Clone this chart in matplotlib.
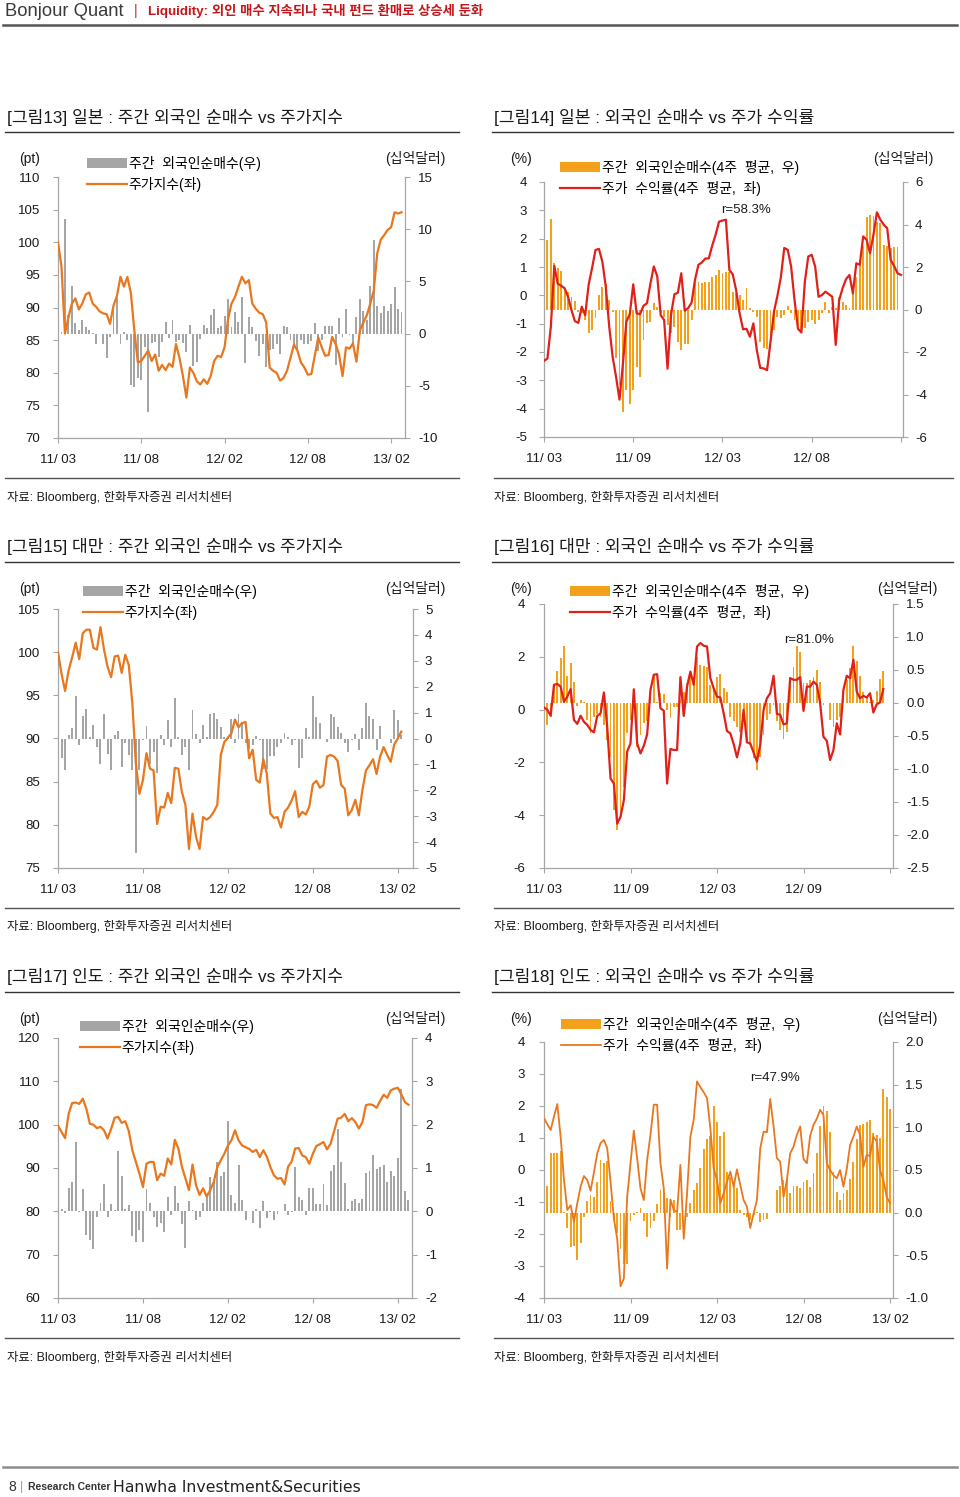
import numpy as np
import matplotlib
matplotlib.use('Agg')
import matplotlib.pyplot as plt
from matplotlib.lines import Line2D
from matplotlib.ticker import FormatStrFormatter

plt.rcParams['font.family'] = ['Liberation Sans', 'Noto Sans CJK KR']
plt.rcParams['axes.unicode_minus'] = False

# ---------------- data ----------------
# [그림13] Japan: weekly foreign net buying (bn USD, right) vs index (pt, left)
jp_idx = [100, 96.3, 86, 88.5, 90.6, 91.4, 89.7, 90.6, 92, 92.3,
          90.6, 90.1, 89.4, 89.1, 89, 87.5, 90.3, 91.8, 94.7, 93.2,
          94.7, 92.2, 86.5, 81.6, 81.8, 82.6, 83.4, 81.8, 82.8, 80.3,
          81.2, 80.4, 81.4, 80.9, 84.4, 82.3, 79.5, 76.2, 80.8, 80,
          78.7, 78.2, 79, 78.3, 79.5, 81.8, 82.6, 82.4, 83.9, 88.2,
          90.6, 91.6, 93.2, 94.7, 93.7, 94.2, 90.6, 89.8, 89.2, 89,
          87.7, 80.8, 80.3, 80, 78.8, 79.2, 80.3, 82.3, 84.3, 83.4,
          81.6, 80.8, 79.7, 79.8, 82.6, 85.4, 83.9, 82.6, 82.7, 85.5,
          84.4, 82.8, 79.5, 83.9, 83.7, 84.5, 81.7, 86.5, 87.7, 88.8,
          90.6, 92.6, 98.3, 100.4, 101.1, 101.9, 102.3, 104.6, 104.4, 104.6]
jp_flow = [1.95, 0.2, 11.0, 1.8, 4.6, 1.05, 0.35, 1.3, 0.65, 0.35,
           0.1, -1.0, 0.0, -0.95, -2.3, -0.3, 2.3, 3.4, -0.95, 0.15,
           -0.6, -4.9, -5.1, -4.3, -4.4, -1.25, -7.5, -0.9, -0.8, -2.2,
           -0.8, 1.1, -0.45, 1.3, -0.8, -0.6, -0.9, -1.75, 0.8, -3.15,
           -2.7, -0.5, 0.8, 0.5, 1.8, 2.35, 0.5, 0.75, 1.7, 3.3,
           0.65, 2.1, 1.1, 3.5, -2.85, 1.6, 0.65, -0.75, -2.15, -0.95,
           -3.2, -1.6, -1.5, -1.0, -2.0, 0.75, 0.6, -0.6, -1.25, -1.6,
           -0.6, -0.95, -1.0, -0.75, 1.05, -1.7, -0.6, 0.75, 0.75, 0.75,
           -3.0, 1.45, -0.3, 2.4, -0.1, -0.95, 1.6, 3.3, 2.2, 1.3,
           4.6, 9.0, 2.65, 2.0, 2.6, 2.2, 2.8, 4.5, 2.35, 2.05]

# [그림14] Japan: 4w avg return (%, left) vs 4w avg foreign net buying (bn USD, right)
jp_ret = [-2.31, -2.23, -1.1, 1.04, 0.41, 0.34, 0.25, -0.05, -0.52, -0.91,
          -0.97, -0.4, -0.7, 0.37, 0.96, 1.6, 1.64, 1.19, 0.31, -1.1,
          -2.17, -2.88, -3.68, -2.41, -0.93, -0.66, 0.39, -0.64, -0.66, -0.37,
          -0.28, 0.41, 1.02, 0.67, -0.7, -0.87, -2.59, -0.7, 0.04, 0.09,
          0.78, -0.54, -0.45, -0.26, 0.55, 1.08, 1.16, 1.3, 1.3, 1.75,
          2.14, 2.6, 2.64, 2.67, 0.9, 0.74, 0.17, -0.64, -1.2, -1.18,
          -1.46, -0.99, -1.93, -2.56, -2.58, -2.64, -1.64, -0.58, -0.02, 0.63,
          1.67, 1.61, 1.02, -0.17, -1.18, -1.31, 0.48, 1.37, 1.43, 1.02,
          -0.05, 0.01, 0.13, 0.04, -0.05, -1.75, -0.17, 0.25, 0.57, 0.72,
          0.07, 1.13, 1.08, 2.08, 1.96, 1.49, 2.14, 2.93, 2.67, 2.49,
          2.37, 1.25, 1.04, 0.78, 0.72]
jp_flow4 = [3.3, 3.25, 4.27, 2.18, 1.97, 1.83, 0.89, 0.84, 0.6, 0.42,
            -0.1, -0.18, -0.5, -1.12, -0.97, -0.42, 0.68, 1.08, 1.2, 0.45,
            -0.1, -2.3, -3.56, -4.83, -3.8, -4.43, -3.8, -2.7, -3.17, -1.44,
            -0.65, -0.57, 0.29, 0.13, -0.18, -0.34, -0.73, -1.12, -0.81, -1.52,
            -1.91, -1.63, -1.63, -0.5, 1.23, 1.31, 1.26, 1.31, 1.31, 1.55,
            1.63, 1.86, 1.74, 1.75, 1.78, 0.84, 0.76, 0.68, 0.45, 1.0,
            0.06, -0.1, -0.34, -1.52, -1.83, -1.88, -1.83, -0.97, -0.34, -0.42,
            -0.26, 0.17, -0.18, -0.5, -0.73, -0.97, -0.89, -0.57, -0.5, -0.68,
            -0.5, -0.18, 0.37, -0.18, 0.13, 0.06, 0.6, 0.34, 0.21, 0.06,
            0.92, 1.55, 2.18, 2.99, 4.35, 4.46, 4.38, 4.11, 4.06, 3.04,
            2.99, 2.91, 2.93, 2.93]

# [그림15] Taiwan
tw_idx = [100, 97.5, 95.5, 97.9, 99.4, 101.1, 99.2, 102.2, 102.6, 102.6,
          100.5, 100.3, 102.9, 100.3, 98.3, 97.1, 99.5, 99.6, 97.6, 99.7,
          98.5, 94.1, 87.1, 83.6, 85.2, 88.3, 86.5, 86.3, 80.1, 82.1,
          82, 83.7, 82.5, 86.6, 86.5, 83.8, 82.3, 77.2, 81.3, 78.6,
          77.2, 80.9, 80.6, 80.9, 81.5, 82.3, 88.1, 89.6, 90.1, 90.6,
          92.2, 91.3, 91.8, 91.9, 87.7, 88.7, 85.2, 84.9, 87.6, 85.9,
          81.3, 80.8, 80.9, 79.7, 81.5, 82, 82.8, 83.9, 80.9, 81.5,
          81.2, 82.1, 84.7, 85.1, 84.3, 84.6, 87.9, 88.1, 87.9, 87.4,
          84.6, 84.2, 81.1, 81.7, 82.9, 81.1, 84, 86.3, 86.9, 87.6,
          85.9, 87.9, 89, 88.1, 87.3, 89.3, 90, 90.8]
tw_flow = [0.06, -0.77, -1.22, 0.13, 0.39, 1.65, -0.26, 0.88, 1.15, 0.06,
           0.52, -0.32, -0.97, 0.93, -0.58, -1.22, 0.13, 0.28, -1.1, -0.19,
           -0.64, -1.22, -4.42, -1.22, -0.06, 0.48, -0.97, -0.52, -1.35, 0.13,
           -0.26, 0.73, -0.32, 1.55, 0.06, -0.64, -0.32, -1.22, 1.1, 0.19,
           -0.19, 0.52, 0.06, 0.93, 0.97, 0.75, 0.45, 0.06, 0.06, 0.77,
           -0.19, 0.93, 0.62, -0.19, -0.39, -0.26, 0.1, -0.06, -1.19, -1.19,
           -0.68, -0.68, -0.32, -0.19, 0.22, 0.06, -0.26, -0.04, -1.13, -0.77,
           0.41, 0.06, 1.65, 0.84, 0.58, 0.0, -0.13, 0.93, 0.84, 0.43,
           0.23, -0.19, -0.52, -0.06, 0.19, -0.43, 0.41, 1.38, 0.88, 0.75,
           -0.45, 0.49, 0.0, 0.0, -0.19, 1.1, 0.71, 0.13]

# [그림16] Taiwan returns
tw_ret = [0.08, -0.01, -0.23, 0.94, 0.97, 0.87, 0.3, 0.49, 0.78, -0.39,
          -0.54, -0.23, -0.46, -0.58, -0.77, -0.86, -0.24, -0.14, 0.65, -0.65,
          -2.61, -2.8, -4.32, -4.06, -3.43, -1.59, -1.28, 0.77, -1.28, -1.66,
          -1.37, -0.94, 0.75, 1.32, 1.34, 0.05, -0.04, -2.8, -1.49, -1.53,
          -1.53, 1.23, -0.24, 0.87, 1.44, 0.94, 2.39, 2.52, 2.42, 2.39,
          1.19, 0.81, 0.49, 0.46, -0.14, -0.81, -0.9, -1.3, -1.81, -1.28,
          -0.01, -1.24, -1.28, -1.63, -1.97, -1.34, -0.01, 0.43, 0.62, 1.28,
          -0.16, -0.2, -0.56, -0.52, 1.19, 1.13, 1.13, 1.23, -0.05, 0.87,
          0.87, 1.06, 0.94, 0.24, -1.03, -1.18, -1.91, -1.53, -0.52, -0.94,
          0.75, 1.28, 1.19, 1.89, 0.68, 0.43, 0.52, 0.46, 0.62, -0.11,
          0.2, 0.27, 0.78]
tw_flow4 = [-0.44, -0.33, -0.21, 0.27, 0.48, 0.68, 0.86, 0.41, 0.61, 0.32,
            -0.05, 0.05, 0.02, -0.26, -0.46, -0.21, -0.16, -0.21, -0.33, -0.56,
            -0.82, -1.62, -1.93, -1.73, -1.27, -0.46, -0.26, 0.0, -0.66, -0.49,
            -0.31, -0.28, 0.2, 0.43, 0.02, 0.15, 0.14, -0.11, -0.23, -0.06,
            -0.06, 0.05, 0.16, 0.3, 0.43, 0.35, 0.7, 0.58, 0.56, 0.55,
            0.27, 0.22, 0.4, 0.44, 0.22, 0.17, -0.21, -0.28, -0.36, -0.44,
            -0.11, -0.61, -0.64, -0.84, -1.01, -0.82, -0.49, -0.26, -0.16, -0.03,
            -0.28, -0.41, -0.54, -0.44, 0.4, 0.55, 0.86, 0.78, 0.3, 0.3,
            0.35, 0.4, 0.5, 0.32, -0.03, 0.0, -0.26, -0.36, -0.26, -0.21,
            0.17, 0.35, 0.53, 0.86, 0.63, 0.41, 0.17, 0.07, 0.02, 0.05,
            0.18, 0.36, 0.48]

# [그림17] India
in_idx = [99.8, 98.3, 96.9, 102.5, 105, 105.1, 104.8, 106, 103.7, 100.2,
          100, 99.2, 99.5, 98.7, 96.8, 99, 101.6, 101.8, 100.4, 100.8,
          98.5, 94.1, 91.4, 88.7, 85.6, 91, 91.4, 91.4, 87.2, 88.7,
          88.2, 92.2, 90.8, 96.5, 94.5, 90.3, 87.6, 84.9, 90.8, 86,
          83.8, 85.3, 83.4, 84.9, 86.8, 90.2, 91.8, 93.3, 95.2, 96.4,
          98.7, 96.4, 95.2, 94.8, 94.4, 93.7, 94.2, 92.5, 94.1, 92.6,
          90.2, 88.3, 87.5, 87.7, 86.2, 90.3, 91.5, 94.5, 94.6, 92.9,
          92.5, 91, 93.3, 95.1, 95.5, 96, 94.3, 95.6, 98.5, 101.4,
          101.6, 102.5, 100.8, 101.5, 100.6, 99.1, 100.6, 104.5, 104.7, 104.5,
          103.9, 105.5, 106.9, 106.2, 107.9, 108.3, 108.5, 107, 105.2, 104.6]
in_flow = [0.27, 0.06, -0.04, 0.55, 0.68, 1.6, -0.02, 0.51, -0.55, -0.67,
           -0.88, -0.13, 0.2, 0.62, -0.13, 0.16, 0.02, 1.39, 0.81, 0.06,
           0.14, -0.57, -0.71, -0.44, -0.71, 0.51, 0.2, -0.13, -0.35, -0.27,
           -0.48, 0.33, -0.09, 0.58, 0.19, -0.3, -0.84, 0.25, 0.02, -0.21,
           -0.12, 0.2, 0.33, 0.79, 0.68, 1.14, 0.81, 0.91, 2.08, 0.37,
           0.2, 1.08, 0.27, -0.21, 0.0, -0.27, 0.06, -0.38, 0.24, -0.15,
           -0.02, -0.21, -0.05, 0.0, 0.16, -0.09, -0.02, 1.02, 0.33, 0.27,
           -0.09, 0.55, 0.55, 0.16, 0.16, 0.62, 0.14, 0.92, 1.08, 1.91,
           1.15, 0.65, 0.06, 0.25, 0.29, 0.2, 0.29, 0.88, 0.92, 1.29,
           0.98, 1.02, 1.06, 0.68, 0.92, 0.81, 1.23, 2.83, 0.47, 0.27]

# [그림18] India returns
in_ret = [1.62, 1.43, 1.25, 1.67, 2.06, 1.04, -0.31, -1.25, -1.1, -1.62,
          -1.04, -0.52, -0.19, -0.31, -0.65, -0.08, 0.52, 0.84, 0.94, 0.68,
          -0.37, -1.52, -2.15, -3.63, -3.39, -0.84, 0.21, 1.23, 0.37, -0.57,
          -0.94, 0.31, 1.1, 2.04, 2.04, 0.21, -0.57, -3.08, -0.92, -1.25,
          -1.32, 0.16, -2.15, -0.73, 1.04, 1.57, 2.77, 2.59, 2.43, 2.25,
          1.31, 0.05, -0.31, -1.04, -0.73, -0.37, -0.05, -0.52, 0.02, -0.47,
          -0.94, -1.15, -1.81, -1.36, -0.94, 0.68, 1.2, 1.18, 2.22, 1.36,
          0.37, 0.26, -0.84, -0.31, 0.52, 0.73, 1.1, 1.36, 0.34, 0.21,
          1.07, 1.41, 1.6, 1.88, 1.72, 0.21, 0.0, -0.16, -0.26, 0.0,
          -0.52, 0.03, 0.78, 1.04, 1.36, 1.1, 0.1, 0.47, 0.44, 1.04,
          0.89, 0.0, -0.31, -0.84, -1.04]
in_flow4 = [0.21, 0.31, 0.7, 0.7, 0.7, 0.72, 0.01, -0.18, -0.4, -0.39,
            -0.56, -0.36, -0.05, 0.14, 0.21, 0.18, 0.36, 0.62, 0.58, 0.6,
            0.14, -0.07, -0.24, -0.42, -0.6, -0.6, -0.1, -0.03, 0.01, 0.05,
            -0.1, -0.29, -0.18, -0.1, 0.1, 0.26, 0.23, 0.17, -0.05, 0.15,
            -0.2, -0.2, 0.0, -0.05, 0.11, 0.27, 0.35, 0.52, 0.75, 0.86,
            0.9, 1.25, 1.06, 0.9, 0.95, 0.48, 0.42, 0.36, 0.29, 0.03,
            -0.03, -0.05, -0.09, -0.03, 0.01, -0.11, -0.09, -0.07, 0.0, 0.0,
            0.27, 0.31, 0.38, 0.4, 0.23, 0.31, 0.31, 0.29, 0.36, 0.38,
            0.3, 0.47, 0.7, 1.02, 1.25, 1.19, 0.95, 0.48, 0.24, 0.15,
            0.23, 0.27, 0.39, 0.59, 0.86, 1.03, 1.04, 1.06, 1.09, 0.93,
            0.91, 0.87, 1.45, 1.36, 1.22]

labels_a = ['11/ 03', '11/ 08', '12/ 02', '12/ 08', '13/ 02']
labels_14 = ['11/ 03', '11/ 09', '12/ 03', '12/ 08', '']
labels_16 = ['11/ 03', '11/ 09', '12/ 03', '12/ 09', '']
labels_18 = ['11/ 03', '11/ 09', '12/ 03', '12/ 08', '13/ 02']
leg_idx = ['주간  외국인순매수(우)', '주가지수(좌)']
leg_ret = ['주간  외국인순매수(4주  평균,  우)', '주가  수익률(4주  평균,  좌)']

# ---------------- layout ----------------
W, H = 960, 1497
fig = plt.figure(figsize=(W / 100, H / 100), dpi=100)
fig.patch.set_facecolor('white')

def fx(x):
    return x / W

def fy(y):
    return 1 - y / H

def rect(x0, y0, x1, y1):
    return [x0 / W, 1 - y1 / H, (x1 - x0) / W, (y1 - y0) / H]

def T(x, y, s, **kw):
    kw.setdefault('va', 'center')
    kw.setdefault('color', '#1a1a1a')
    return fig.text(fx(x), fy(y), s, **kw)

def rule(x0, x1, y, color='#444444', lw=1.0):
    fig.add_artist(Line2D([fx(x0), fx(x1)], [fy(y), fy(y)], transform=fig.transFigure,
                          color=color, lw=lw))

AX_COL = '#A6A6A6'
TXT = '#1a1a1a'
GRAY_BAR = '#A5A5A5'
IDX_LINE = '#E8771E'
ORANGE_BAR = '#F3A11B'
RED_LINE = '#E0201B'
FS = 9.5
LEG_FS = 10


def chart(r, line_vals, bar_vals, xlim, xticks, xlabels, llim, lticks, rlim, rticks,
          rfmt, line_col, bar_col, lpad, rpad, leg_xy, leg_labels, lw=1.6):
    axb = fig.add_axes(rect(*r))
    axl = axb.twinx()
    axb.yaxis.tick_right()
    axl.yaxis.tick_left()
    bars = axb.bar(np.arange(len(bar_vals)), bar_vals, width=0.55, color=bar_col,
                   linewidth=0, zorder=2)
    line, = axl.plot(np.arange(len(line_vals)), line_vals, color=line_col, lw=lw, zorder=3)
    axb.set_xlim(*xlim)
    axb.set_ylim(*rlim)
    axl.set_ylim(*llim)
    axb.set_yticks(rticks)
    axl.set_yticks(lticks)
    axb.yaxis.set_major_formatter(FormatStrFormatter(rfmt))
    axl.yaxis.set_major_formatter(FormatStrFormatter('%g'))
    axb.set_xticks(xticks)
    axb.set_xticklabels(xlabels)
    for s in ['top', 'left']:
        axb.spines[s].set_visible(False)
    for s in ['top', 'right', 'bottom']:
        axl.spines[s].set_visible(False)
    for sp in (axb.spines['right'], axb.spines['bottom'], axl.spines['left']):
        sp.set_color(AX_COL)
        sp.set_linewidth(0.9)
    axb.tick_params(axis='y', direction='out', length=3.6, width=0.8, color=AX_COL,
                    labelsize=FS, pad=rpad, labelcolor=TXT)
    axb.tick_params(axis='x', direction='out', length=3.6, width=0.8, color=AX_COL,
                    labelsize=FS, pad=8.0, labelcolor=TXT)
    axl.tick_params(axis='y', direction='out', length=3.6, width=0.8, color=AX_COL,
                    labelsize=FS, pad=lpad, labelcolor=TXT)
    axb.patch.set_visible(False)
    axl.legend([bars, line], leg_labels, loc='upper left',
               bbox_to_anchor=(fx(leg_xy[0]), fy(leg_xy[1])),
               bbox_transform=fig.transFigure, frameon=False, fontsize=LEG_FS,
               handlelength=2.9, handletextpad=0.1, borderpad=0, borderaxespad=0,
               labelspacing=0.4)
    return axb, axl


# Chart 13
chart((58, 177, 405, 438), jp_idx, jp_flow, (0, 100), [0, 24, 48, 72, 96], labels_a,
      (70, 110), np.arange(70, 111, 5), (-10, 15), np.arange(-10, 16, 5), '%d',
      IDX_LINE, GRAY_BAR, 9.4, 5.8, (87, 156), leg_idx)
# Chart 14
chart((544, 182, 903, 437), jp_ret, jp_flow4, (0, 104.6), [0, 26, 52, 78, 104], labels_14,
      (-5, 4), np.arange(-5, 5, 1), (-6, 6), np.arange(-6, 7, 2), '%d',
      RED_LINE, ORANGE_BAR, 8.6, 5.0, (560, 160), leg_ret)
# Chart 15
chart((58, 609, 413, 868), tw_idx, tw_flow, (0, 100.3), [0, 24, 48, 72, 96], labels_a,
      (75, 105), np.arange(75, 106, 5), (-5, 5), np.arange(-5, 6, 1), '%d',
      IDX_LINE, GRAY_BAR, 9.4, 5.0, (83, 584), leg_idx)
# Chart 16
chart((544, 604, 893, 868), tw_ret, tw_flow4, (0, 104.9), [0, 26, 52, 78, 104], labels_16,
      (-6, 4), np.arange(-6, 5, 2), (-2.5, 1.5), np.arange(-2.5, 1.51, 0.5), '%.1f',
      RED_LINE, ORANGE_BAR, 10.0, 5.8, (570, 584), leg_ret)
# Chart 17
chart((58, 1038, 412, 1298), in_idx, in_flow, (0, 100.0), [0, 24, 48, 72, 96], labels_a,
      (60, 120), np.arange(60, 121, 10), (-2, 4), np.arange(-2, 5, 1), '%d',
      IDX_LINE, GRAY_BAR, 9.4, 5.8, (80, 1019), leg_idx)
# Chart 18
chart((544, 1042, 893, 1298), in_ret, in_flow4, (0, 104.9), [0, 26, 52, 78, 104], labels_18,
      (-4, 4), np.arange(-4, 5, 1), (-1.0, 2.0), np.arange(-1.0, 2.01, 0.5), '%.1f',
      IDX_LINE, ORANGE_BAR, 10.0, 5.0, (561, 1017), leg_ret, lw=1.3)

# unit labels
for (xl, xr, y) in [(30, 415, 159), (30, 415, 589), (30, 415, 1019)]:
    T(xl, y, '(pt)', ha='center', fontsize=LEG_FS)
    T(xr, y, '(십억달러)', ha='center', fontsize=LEG_FS)
for (xl, xr, y) in [(521, 903, 159), (521, 907, 589), (521, 907, 1019)]:
    T(xl, y, '(%)', ha='center', fontsize=LEG_FS)
    T(xr, y, '(십억달러)', ha='center', fontsize=LEG_FS)

# correlation notes
T(746, 210, 'r=58.3%', ha='center', fontsize=FS)
T(809, 640, 'r=81.0%', ha='center', fontsize=FS)
T(775, 1078, 'r=47.9%', ha='center', fontsize=FS)

# titles
TITLE_FS = 12.3
T(7, 117, '[그림13] 일본 : 주간 외국인 순매수 vs 주가지수', fontsize=TITLE_FS)
T(494, 117, '[그림14] 일본 : 외국인 순매수 vs 주가 수익률', fontsize=TITLE_FS)
T(7, 547, '[그림15] 대만 : 주간 외국인 순매수 vs 주가지수', fontsize=TITLE_FS)
T(494, 547, '[그림16] 대만 : 외국인 순매수 vs 주가 수익률', fontsize=TITLE_FS)
T(7, 977, '[그림17] 인도 : 주간 외국인 순매수 vs 주가지수', fontsize=TITLE_FS)
T(494, 977, '[그림18] 인도 : 외국인 순매수 vs 주가 수익률', fontsize=TITLE_FS)
for y in (132, 562, 992):
    rule(5, 459, y, '#333333', 1.0)
    rule(492, 953, y, '#333333', 1.0)

# sources
SRC = '자료: Bloomberg, 한화투자증권 리서치센터'
for y in (497, 927, 1357):
    T(7, y, SRC, fontsize=8.9)
    T(494, y, SRC, fontsize=8.9)
for y in (478, 908, 1338):
    rule(5, 459, y, '#555555', 1.0)
    rule(494, 953, y, '#555555', 1.0)

# header
T(5, 11, 'Bonjour Quant', fontsize=13.2, color='#3a3a3a')
T(134, 11, '|', fontsize=10, color='#b03030')
T(148, 11, 'Liquidity: 외인 매수 지속되나 국내 펀드 환매로 상승세 둔화', fontsize=9.6,
  fontweight='bold', color='#C4161C')
rule(3, 957, 25, '#555555', 1.8)

# footer
rule(3, 957, 1467, '#8c8c8c', 1.8)
T(8, 1487, '8', fontsize=10, color='#333333')
T(20, 1487, '|', fontsize=9, color='#999999')
T(28, 1487, 'Research Center', fontsize=7.5, fontweight='bold', color='#333333')
T(113, 1487, 'Hanwha Investment&Securities', fontsize=11.3, color='#222222',
  family=['DejaVu Sans'])

fig.savefig('out.png', dpi=100)
